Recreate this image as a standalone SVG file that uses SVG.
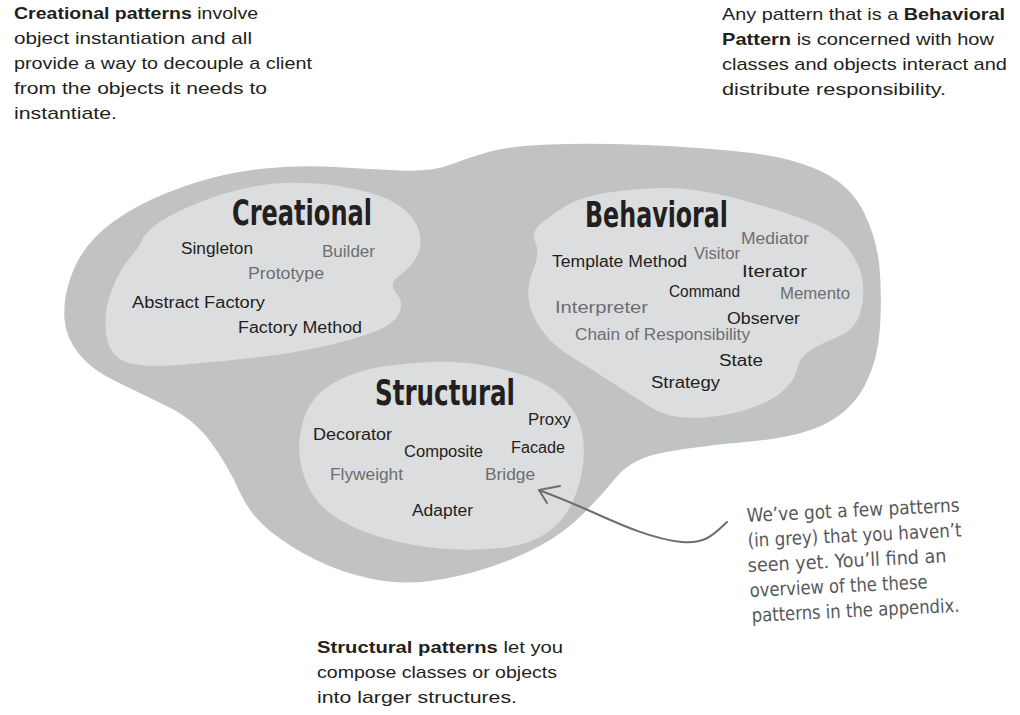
<svg xmlns="http://www.w3.org/2000/svg" width="1020" height="715" viewBox="0 0 1020 715">
<style>
.body{font-family:"Liberation Sans","Noto Sans",sans-serif;font-size:17px;fill:#231f20}
.b{font-weight:bold}
.head{font-family:"DejaVu Sans Condensed","Liberation Sans Narrow",sans-serif;font-weight:bold;font-size:36px;fill:#231f20}
.p{font-family:"Liberation Sans","Noto Sans",sans-serif;font-size:16px;fill:#231f20}
.g{fill:#6d6e71}
.note{font-family:"Liberation Sans Narrow","DejaVu Sans Condensed",sans-serif;font-size:19px;fill:#58595b}
.outer{fill:#c1c2c4}
.inner{fill:#dcdddf}
.conn{fill:none;stroke:#6d6e71;stroke-width:2;stroke-linecap:round;stroke-linejoin:round}
</style>

<g id="caption-creational">
<text class="body" x="14" y="19" textLength="244" lengthAdjust="spacingAndGlyphs"><tspan class="b">Creational patterns</tspan> involve</text>
<text class="body" x="14" y="44" textLength="238" lengthAdjust="spacingAndGlyphs">object instantiation and all</text>
<text class="body" x="14" y="69" textLength="298" lengthAdjust="spacingAndGlyphs">provide a way to decouple a client</text>
<text class="body" x="14" y="94" textLength="253" lengthAdjust="spacingAndGlyphs">from the objects it needs to</text>
<text class="body" x="14" y="119" textLength="103" lengthAdjust="spacingAndGlyphs">instantiate.</text>
</g>

<g id="caption-behavioral">
<text class="body" x="722" y="20" textLength="283" lengthAdjust="spacingAndGlyphs">Any pattern that is a <tspan class="b">Behavioral</tspan></text>
<text class="body" x="722" y="45" textLength="272" lengthAdjust="spacingAndGlyphs"><tspan class="b">Pattern</tspan> is concerned with how</text>
<text class="body" x="722" y="70" textLength="285" lengthAdjust="spacingAndGlyphs">classes and objects interact and</text>
<text class="body" x="722" y="95" textLength="224" lengthAdjust="spacingAndGlyphs">distribute responsibility.</text>
</g>

<g id="caption-structural">
<text class="body" x="317" y="653" textLength="246" lengthAdjust="spacingAndGlyphs"><tspan class="b">Structural patterns</tspan> let you</text>
<text class="body" x="317" y="678" textLength="240" lengthAdjust="spacingAndGlyphs">compose classes or objects</text>
<text class="body" x="317" y="703" textLength="200" lengthAdjust="spacingAndGlyphs">into larger structures.</text>
</g>

<g id="patterns-area">
<path class="outer" d="M64.5,319 Q63,300 70.5,277.5 Q78,255 95,237.5 Q112,220 138.5,206 Q165,192 197.5,182 Q230,172 265,168.5 Q300,165 335,167 Q370,169 401,170.5 Q432,172 451,164.5 Q470,157 490,151.5 Q510,146 550,144.5 Q590,143 645,145 Q700,147 747.5,152.5 Q795,158 823.5,172.5 Q852,187 864.5,213.5 Q877,240 879.5,267.5 Q882,295 880,327.5 Q878,360 865,385 Q852,410 826,423.5 Q800,437 750,441.5 Q700,446 666,452 Q632,458 617,476.5 Q602,495 583.5,513.5 Q565,532 541.5,545 Q518,558 489,567.5 Q460,577 430,581 Q400,585 370,578.5 Q340,572 315,559.5 Q290,547 270,531 Q250,515 239,490.5 Q228,466 211.5,443 Q195,420 167.5,406.5 Q140,393 116,381.5 Q92,370 79,354 Q66,338 64.5,319 Z"/>
</g>

<g id="creational">
<path class="inner" d="M106.5,336 Q103,315 110.5,293.5 Q118,272 129,259 Q140,246 141.5,241 Q143,236 152.5,227.5 Q162,219 186,208 Q210,197 236,190.5 Q262,184 281,183 Q300,182 322.5,184 Q345,186 369,192.5 Q393,199 405.5,210.5 Q418,222 420,235 Q422,248 416,258 Q410,268 399,276 Q388,284 396,293 Q404,302 399.5,312.5 Q395,323 377.5,330.5 Q360,338 327.5,345.5 Q295,353 260,357 Q225,361 185,364.5 Q145,368 127.5,362.5 Q110,357 106.5,336 Z"/>
<text class="head" transform="translate(232 225) scale(0.78 1)" x="0" y="0" textLength="179.5" lengthAdjust="spacingAndGlyphs">Creational</text>
<text class="p" x="181" y="254" textLength="72" lengthAdjust="spacingAndGlyphs">Singleton</text>
<text class="p g" x="322" y="257" textLength="53" lengthAdjust="spacingAndGlyphs">Builder</text>
<text class="p g" x="248" y="279" textLength="76" lengthAdjust="spacingAndGlyphs">Prototype</text>
<text class="p" x="132" y="308" textLength="133" lengthAdjust="spacingAndGlyphs">Abstract Factory</text>
<text class="p" x="238" y="333" textLength="124" lengthAdjust="spacingAndGlyphs">Factory Method</text>
</g>

<g id="behavioral">
<path class="inner" d="M528.5,298.5 Q527,285 533.5,269 Q540,253 535.5,242.5 Q531,232 540.5,224 Q550,216 565,206.5 Q580,197 605,193 Q630,189 660,188 Q690,187 728.5,196.5 Q767,206 800,218 Q833,230 846.5,246.5 Q860,263 862.5,280 Q865,297 860,313.5 Q855,330 837.5,337 Q820,344 810,350.5 Q800,357 797,369.5 Q794,382 780.5,393 Q767,404 742,411 Q717,418 692,418 Q667,418 647,405 Q627,392 605,378 Q583,364 566.5,353.5 Q550,343 540,327.5 Q530,312 528.5,298.5 Z"/>
<text class="head" transform="translate(585 227) scale(0.78 1)" x="0" y="0" textLength="183.3" lengthAdjust="spacingAndGlyphs">Behavioral</text>
<text class="p" x="552" y="267" textLength="135" lengthAdjust="spacingAndGlyphs">Template Method</text>
<text class="p g" x="694" y="259" textLength="46" lengthAdjust="spacingAndGlyphs">Visitor</text>
<text class="p g" x="741" y="244" textLength="68" lengthAdjust="spacingAndGlyphs">Mediator</text>
<text class="p" x="742" y="277" textLength="65" lengthAdjust="spacingAndGlyphs">Iterator</text>
<text class="p" x="669" y="297" textLength="71" lengthAdjust="spacingAndGlyphs">Command</text>
<text class="p g" x="780" y="299" textLength="70" lengthAdjust="spacingAndGlyphs">Memento</text>
<text class="p g" x="555" y="313" textLength="93" lengthAdjust="spacingAndGlyphs">Interpreter</text>
<text class="p" x="727" y="324" textLength="73" lengthAdjust="spacingAndGlyphs">Observer</text>
<text class="p g" x="575" y="340" textLength="175" lengthAdjust="spacingAndGlyphs">Chain of Responsibility</text>
<text class="p" x="719" y="366" textLength="44" lengthAdjust="spacingAndGlyphs">State</text>
<text class="p" x="651" y="388" textLength="69" lengthAdjust="spacingAndGlyphs">Strategy</text>
</g>

<g id="structural">
<path class="inner" d="M304.5,477.5 Q297,455 300,435 Q303,415 312.5,401.5 Q322,388 341,379 Q360,370 382.5,366.5 Q405,363 432.5,362 Q460,361 485,365.5 Q510,370 530,377.5 Q550,385 562.5,397.5 Q575,410 580,425 Q585,440 583.5,460 Q582,480 573.5,500 Q565,520 547.5,532.5 Q530,545 500,548 Q470,551 440,548.5 Q410,546 380,537 Q350,528 331,514 Q312,500 304.5,477.5 Z"/>
<text class="head" transform="translate(375 405) scale(0.78 1)" x="0" y="0" textLength="179.5" lengthAdjust="spacingAndGlyphs">Structural</text>
<text class="p" x="528" y="425" textLength="43" lengthAdjust="spacingAndGlyphs">Proxy</text>
<text class="p" x="313" y="440" textLength="79" lengthAdjust="spacingAndGlyphs">Decorator</text>
<text class="p" x="404" y="457" textLength="79" lengthAdjust="spacingAndGlyphs">Composite</text>
<text class="p" x="511" y="453" textLength="54" lengthAdjust="spacingAndGlyphs">Facade</text>
<text class="p g" x="330" y="480" textLength="73" lengthAdjust="spacingAndGlyphs">Flyweight</text>
<text class="p g" x="485" y="480" textLength="50" lengthAdjust="spacingAndGlyphs">Bridge</text>
<text class="p" x="412" y="516" textLength="61" lengthAdjust="spacingAndGlyphs">Adapter</text>
</g>

<g id="connectors">
<path class="conn" d="M727,522 C714,534 706,544 682,542 C650,539 615,522 590,511 C570,502 552,495 539,490"/>
<path class="conn" d="M560,486 L539,490 L547,503"/>
</g>

<g id="note">
<text class="note" x="747" y="522" transform="rotate(-2.8 747 522)" textLength="213" lengthAdjust="spacingAndGlyphs">We’ve got a few patterns</text>
<text class="note" x="748" y="547" transform="rotate(-2.8 748 547)" textLength="214" lengthAdjust="spacingAndGlyphs">(in grey) that you haven’t</text>
<text class="note" x="748" y="572" transform="rotate(-2.8 748 572)" textLength="199" lengthAdjust="spacingAndGlyphs">seen yet.  You’ll find an</text>
<text class="note" x="750" y="597" transform="rotate(-2.8 750 597)" textLength="178" lengthAdjust="spacingAndGlyphs">overview of the these</text>
<text class="note" x="752" y="622" transform="rotate(-2.8 752 622)" textLength="208" lengthAdjust="spacingAndGlyphs">patterns in the appendix.</text>
</g>
</svg>
